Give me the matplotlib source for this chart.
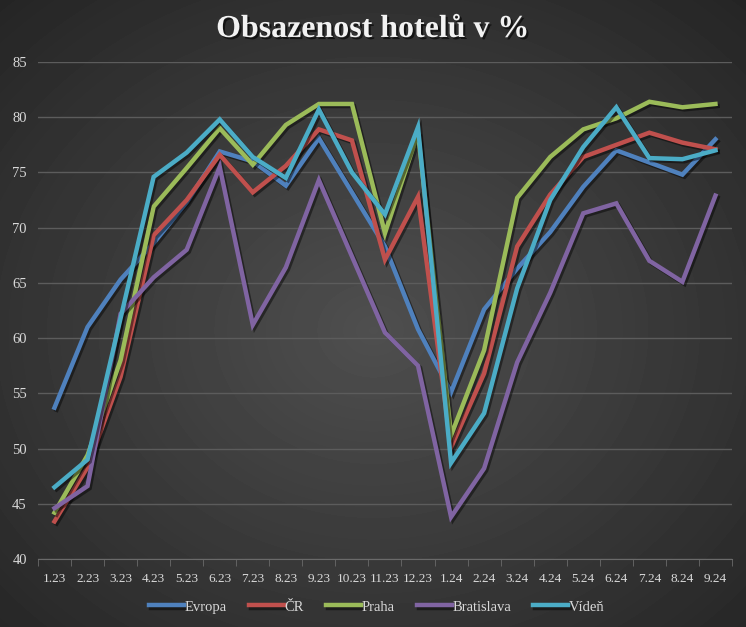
import numpy as np
import matplotlib
matplotlib.use("Agg")
import matplotlib.pyplot as plt
import matplotlib.patheffects as pe

# months on the x axis
months = ["1.23", "2.23", "3.23", "4.23", "5.23", "6.23", "7.23", "8.23", "9.23", "10.23",
          "11.23", "12.23", "1.24", "2.24", "3.24", "4.24", "5.24", "6.24", "7.24", "8.24", "9.24"]

# occupancy values
evropa = [53.7, 61.0, 65.3, 68.6, 72.3, 76.9, 76.0, 73.8, 78.1, 73.2, 68.3, 60.8,
          55.1, 62.6, 66.3, 69.6, 73.7, 77.0, 75.9, 74.8, 78.0]
cr = [43.4, 48.3, 56.5, 69.3, 72.5, 76.6, 73.2, 75.6, 78.9, 77.9, 67.1, 72.8,
      50.1, 56.8, 68.3, 73.0, 76.4, 77.5, 78.6, 77.7, 77.1]
praha = [44.2, 49.4, 58.0, 71.9, 75.4, 79.0, 75.7, 79.3, 81.2, 81.2, 69.5, 78.6,
         51.2, 58.9, 72.7, 76.4, 78.9, 79.9, 81.4, 80.9, 81.2]
bratislava = [44.6, 46.6, 62.2, 65.5, 68.0, 75.5, 61.2, 66.4, 74.3, 67.4, 60.5, 57.5,
              43.8, 48.2, 57.8, 64.1, 71.3, 72.2, 67.0, 65.1, 72.9]
viden = [46.5, 49.0, 61.8, 74.6, 76.8, 79.8, 76.4, 74.5, 80.7, 75.0, 71.2, 79.1,
         48.7, 53.2, 64.5, 72.5, 77.3, 80.9, 76.3, 76.2, 77.0]

series = [("Evropa", evropa, "#4F81BD"),
          ("ČR", cr, "#C0504D"),
          ("Praha", praha, "#9BBB59"),
          ("Bratislava", bratislava, "#8064A2"),
          ("Vídeň", viden, "#4BACC6")]

plt.rcParams['font.family'] = ['Liberation Serif', 'DejaVu Serif']

fig = plt.figure(figsize=(7.46, 6.27), dpi=100)

# radial dark gradient background
bg = fig.add_axes([0, 0, 1, 1])
yy, xx = np.mgrid[0:627, 0:746]
r = np.sqrt(((xx - 373) / 560.0) ** 2 + ((yy - 330) / 470.0) ** 2)
shade = np.clip(0.31 - 0.17 * r, 0.10, 0.31)
bg.imshow(shade, cmap="gray", vmin=0, vmax=1, aspect="auto", extent=[0, 1, 0, 1])
bg.axis("off")

ax = fig.add_axes([0.0509, 0.1085, 0.9303, 0.7926])
ax.patch.set_alpha(0)

x = np.arange(len(months))
for name, vals, col in series:
    ax.plot(x, vals, color=col, lw=3.2, label=name, solid_joinstyle="miter",
            path_effects=[pe.SimpleLineShadow(offset=(1.5, -1.5), shadow_color="black", alpha=0.45),
                          pe.Normal()])

ax.set_ylim(40, 85)
ax.set_yticks(range(40, 90, 5))
ax.set_xlim(-0.5, len(months) - 0.5)
ax.set_xticks(x)
ax.set_xticklabels(months)
ax.set_xticks(np.arange(-0.5, len(months), 1), minor=True)
ax.tick_params(axis="x", which="major", length=0, pad=10, colors="#d9d9d9", labelsize=9.5)
ax.tick_params(axis="x", which="minor", length=5, color="#6a6a6a", direction="out")
ax.tick_params(axis="y", length=0, pad=8, colors="#d9d9d9", labelsize=10.5)

ax.grid(axis="y", color="#5c5c5c", lw=1)
ax.set_axisbelow(True)
for s in ["top", "right", "left"]:
    ax.spines[s].set_visible(False)
ax.spines["bottom"].set_color("#6a6a6a")

fig.text(0.5, 0.953, "Obsazenost hotelů v %", ha="center", va="center",
         fontsize=23, fontweight="bold", color="#f2f2f2",
         path_effects=[pe.withSimplePatchShadow(offset=(1.5, -1.5), shadow_rgbFace="black", alpha=0.6)])

leg = fig.legend(loc="center", bbox_to_anchor=(0.505, 0.032), ncol=5, frameon=False,
                 fontsize=10.5, handlelength=2.4, handletextpad=0.05, columnspacing=1.5,
                 labelcolor="#d9d9d9")

fig.savefig("out.png", dpi=100)
